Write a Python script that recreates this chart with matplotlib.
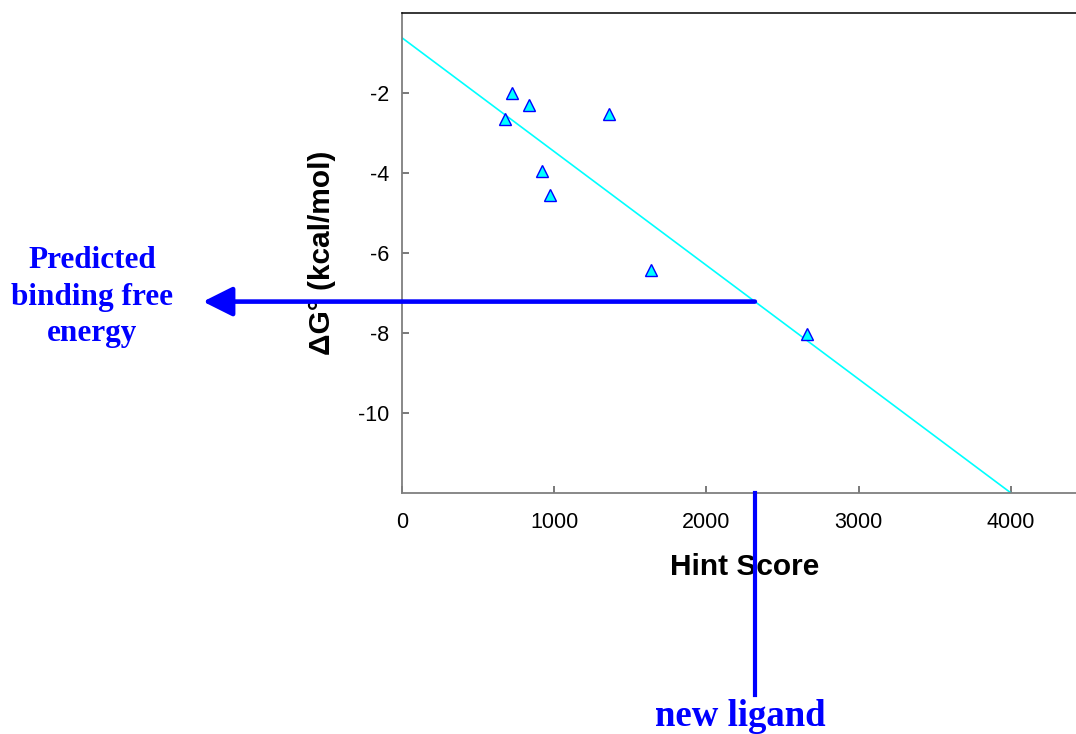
import matplotlib
matplotlib.use("Agg")
import matplotlib.pyplot as plt
import numpy as np
from matplotlib.patches import FancyArrowPatch
from matplotlib.lines import Line2D
from matplotlib.transforms import IdentityTransform

# ---- data ----
hint_score = [720, 834, 676, 1360, 921, 972, 1633, 2662]
delta_g = [-2.01, -2.29, -2.64, -2.53, -3.96, -4.56, -6.43, -8.03]
fit_intercept = -0.62
fit_slope = -0.002845
fit_x_range = [0, 4000]
new_ligand_score = 2318
x_ticks = [0, 1000, 2000, 3000, 4000]
y_ticks = [-2, -4, -6, -8, -10]

W, H = 1076, 734
fig = plt.figure(figsize=(W / 100, H / 100), dpi=100)
plt.rcParams['font.family'] = ['Liberation Sans', 'DejaVu Sans']

def fx(px):
    return px / W

def fy(py):
    return 1 - py / H

ax = fig.add_axes([fx(402), fy(493), 1 - fx(402), fy(13) - fy(493)])
ax.set_xlim(0, 4427)
ax.set_ylim(-12, 0)

# regression line
fx_vals = np.array(fit_x_range, dtype=float)
ax.plot(fx_vals, fit_intercept + fit_slope * fx_vals, color='#00FFFF', lw=1.2, zorder=2)

# points
ax.plot(hint_score, delta_g, linestyle='none', marker='^', markersize=8.5,
        markerfacecolor='#00FFFF', markeredgecolor='#0000FF', markeredgewidth=1.0, zorder=3)

# spines
ax.spines['right'].set_visible(False)
ax.spines['top'].set_color('black')
ax.spines['top'].set_linewidth(1.1)
for s in ('left', 'bottom'):
    ax.spines[s].set_color('#7f7f7f')
    ax.spines[s].set_linewidth(1.3)

ax.set_xticks(x_ticks)
ax.set_yticks(y_ticks)
ax.set_xticklabels([str(v) for v in x_ticks])
ax.set_yticklabels([str(v) for v in y_ticks])
ax.tick_params(direction='in', length=5, width=1.1, color='#555555', labelsize=15.5,
               top=False, right=False)
ax.tick_params(axis='x', pad=14)
ax.tick_params(axis='y', pad=9)

fig.text(fx(745), fy(567), 'Hint Score', fontsize=21.5, fontweight='bold',
         ha='center', va='center', zorder=1)
fig.text(fx(322), fy(253), 'ΔG° (kcal/mol)', fontsize=21.5, fontweight='bold',
         rotation=90, ha='center', va='center', zorder=1)

# predicted value from regression
pred_dg = fit_intercept + fit_slope * new_ligand_score

# horizontal arrow from regression line to the left
start = ax.transData.transform((new_ligand_score, pred_dg))
arrow = FancyArrowPatch(posA=tuple(start), posB=(203, start[1]),
                        arrowstyle='-|>,head_length=18,head_width=9',
                        mutation_scale=1, color='#0000FF', lw=3.3,
                        shrinkA=0, shrinkB=0, zorder=6)
arrow.set_transform(IdentityTransform())
fig.add_artist(arrow)

# vertical line from x axis down to label
xa, ya = ax.transData.transform((new_ligand_score, -12))
vline = Line2D([xa / W, xa / W], [ya / H, fy(695)], color='#0000FF', lw=3.0,
               transform=fig.transFigure, zorder=6)
fig.add_artist(vline)

fig.text(fx(92), fy(297), 'Predicted\nbinding free\nenergy', fontsize=22.5,
         fontweight='bold', color='#0000FF', family=['Liberation Serif', 'DejaVu Serif'],
         ha='center', va='center', linespacing=1.32)
fig.text(fx(740), fy(716), 'new ligand', fontsize=26.5, fontweight='bold',
         color='#0000FF', family=['Liberation Serif', 'DejaVu Serif'],
         ha='center', va='center')

fig.savefig('out.png', dpi=100)
